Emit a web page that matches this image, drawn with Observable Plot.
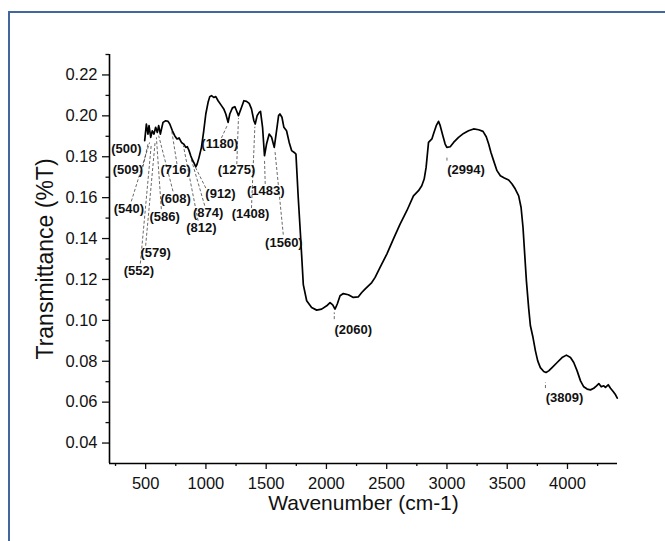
<!DOCTYPE html>
<html><head><meta charset="utf-8">
<script src="https://cdn.jsdelivr.net/npm/d3@7"></script>
<script src="https://cdn.jsdelivr.net/npm/@observablehq/plot@0.6"></script>
<style>
html,body{margin:0;padding:0;background:#fff;overflow:hidden;width:665px;height:541px;}
#frame{position:absolute;left:8px;top:11px;width:720px;height:620px;border:2px solid #43679d;box-sizing:border-box;}
#chart{position:absolute;left:0;top:0;}
</style></head><body>
<div id="frame"></div>
<div id="chart"></div>
<script>
const wavenumber = [492,506,519,528,542,555,569,583,597,608,622,644,666,686,700,722,741,760,777,797,816,833,846,860,874,888,899,916,927,943,963,982,999,1018,1032,1046,1065,1082,1101,1129,1148,1165,1184,1198,1220,1240,1254,1270,1295,1315,1337,1359,1378,1398,1409,1425,1442,1453,1470,1486,1503,1525,1545,1567,1586,1603,1614,1631,1647,1669,1691,1711,1733,1747,1766,1786,1808,1836,1877,1919,1960,2002,2030,2052,2071,2090,2113,2140,2182,2223,2265,2293,2320,2348,2376,2404,2445,2501,2556,2611,2667,2722,2764,2791,2811,2827,2847,2861,2875,2888,2911,2930,2944,2966,2985,2999,3027,3055,3096,3138,3179,3221,3263,3299,3326,3346,3365,3387,3415,3443,3476,3512,3540,3567,3595,3615,3631,3645,3659,3678,3692,3714,3734,3753,3775,3803,3822,3844,3872,3914,3955,3991,4025,4052,4080,4108,4135,4163,4191,4218,4241,4260,4280,4301,4315,4338,4357,4379,4399,4413];
const transmittance = [0.1879,0.1960,0.1911,0.1952,0.1895,0.1927,0.1911,0.1944,0.1919,0.1952,0.1911,0.1968,0.1976,0.1973,0.1960,0.1927,0.1903,0.1887,0.1892,0.1870,0.1862,0.1846,0.1849,0.1830,0.1805,0.1784,0.1772,0.1751,0.1764,0.1797,0.1846,0.1927,0.2009,0.2066,0.2094,0.2099,0.2090,0.2094,0.2074,0.2050,0.2034,0.2009,0.1968,0.2009,0.2039,0.2045,0.2025,0.2001,0.2041,0.2074,0.2071,0.2061,0.2034,0.1976,0.1960,0.2001,0.2017,0.2022,0.1944,0.1805,0.1862,0.1911,0.1895,0.1846,0.1927,0.2001,0.2009,0.1993,0.1944,0.1927,0.1870,0.1830,0.1821,0.1813,0.1601,0.1405,0.1175,0.1096,0.1063,0.1050,0.1055,0.1071,0.1087,0.1076,0.1055,0.1080,0.1120,0.1131,0.1125,0.1112,0.1115,0.1136,0.1153,0.1169,0.1185,0.1210,0.1259,0.1324,0.1398,0.1471,0.1536,0.1609,0.1634,0.1658,0.1691,0.1748,0.1870,0.1879,0.1887,0.1911,0.1952,0.1973,0.1952,0.1903,0.1862,0.1846,0.1849,0.1870,0.1895,0.1914,0.1927,0.1936,0.1932,0.1924,0.1898,0.1862,0.1821,0.1781,0.1732,0.1707,0.1696,0.1686,0.1667,0.1642,0.1609,0.1552,0.1454,0.1324,0.1194,0.1060,0.0975,0.0916,0.0851,0.0802,0.0769,0.0750,0.0745,0.0753,0.0769,0.0794,0.0818,0.0830,0.0818,0.0794,0.0753,0.0704,0.0675,0.0664,0.0660,0.0668,0.0680,0.0691,0.0675,0.0680,0.0672,0.0685,0.0668,0.0652,0.0636,0.0620];

const xMajorTicks = [500,1000,1500,2000,2500,3000,3500,4000];
const xMinorTicks = [250,750,1250,1750,2250,2750,3250,3750,4250];
const yMajorTicks = [0.04,0.06,0.08,0.10,0.12,0.14,0.16,0.18,0.20,0.22];
const yMinorTicks = [0.05,0.07,0.09,0.11,0.13,0.15,0.17,0.19,0.21,0.23];

const peakLabels = ["(500)","(509)","(540)","(552)","(579)","(586)","(608)","(716)","(812)","(874)","(912)","(1180)","(1275)","(1408)","(1483)","(1560)","(2060)","(2994)","(3809)"];
const labelX = [340,353,361,444,583,658,749,749,963,1018,1121,1115,1254,1370,1497,1647,2223,3158,3975];
const labelY = [0.1838,0.1735,0.1544,0.1243,0.1332,0.1507,0.1593,0.1735,0.1454,0.1528,0.1618,0.1862,0.1735,0.1520,0.1634,0.1381,0.0954,0.1735,0.0623];

// leader lines: label end (x1,y1) to spectrum end (x2,y2)
const leaderX1 = [478,381,456,500,630,727,760,935,990,999,1129,1256,1378,1492,1642,2065,3000,3817];
const leaderY1 = [0.1751,0.1582,0.1278,0.1365,0.1544,0.1631,0.1764,0.1487,0.1561,0.1647,0.1892,0.1764,0.1549,0.1667,0.1419,0.1006,0.1781,0.0669];
const leaderX2 = [519,533,547,578,589,608,716,813,874,916,1176,1270,1406,1486,1572,2065,3000,3817];
const leaderY2 = [0.1862,0.1870,0.1862,0.1870,0.1895,0.1903,0.1928,0.1854,0.1797,0.1745,0.1952,0.1989,0.1947,0.1789,0.1833,0.1039,0.1805,0.0696];

const spectrum = wavenumber.map((w, i) => ({w, t: transmittance[i]}));
const labels = peakLabels.map((s, i) => ({s, x: labelX[i], y: labelY[i]}));
const leaders = leaderX1.map((x1, i) => ({x1, y1: leaderY1[i], x2: leaderX2[i], y2: leaderY2[i]}));

const chart = Plot.plot({
  width: 665, height: 541,
  marginLeft: 109, marginRight: 48, marginTop: 54, marginBottom: 78,
  style: {fontFamily: "'Liberation Sans', Arial, sans-serif", background: "transparent", color: "#111"},
  x: {domain: [200, 4415]},
  y: {domain: [0.03, 0.23]},
  marks: [
    Plot.axisX({ticks: xMajorTicks, tickSize: 6, tickPadding: 8, fontSize: 16.5, strokeWidth: 1.3, label: null, tickFormat: d => String(d)}),
    Plot.axisX({ticks: xMinorTicks, tickSize: 3, strokeWidth: 1.3, tickFormat: () => "", label: null}),
    Plot.axisX({ticks: [], label: "Wavenumber (cm-1)", labelAnchor: "center", labelArrow: "none", labelOffset: 46, fontSize: 21}),
    Plot.axisY({ticks: yMajorTicks, tickSize: 7, tickPadding: 5, fontSize: 16.5, strokeWidth: 1.3, label: null, tickFormat: d3.format(".2f")}),
    Plot.axisY({ticks: yMinorTicks, tickSize: 3.5, strokeWidth: 1.3, tickFormat: () => "", label: null}),
    Plot.axisY({ticks: [], label: "Transmittance (%T)", labelAnchor: "center", labelArrow: "none", labelOffset: 73, fontSize: 23}),
    Plot.ruleX([200], {stroke: "#000", strokeWidth: 1.6}),
    Plot.ruleY([0.03], {stroke: "#000", strokeWidth: 1.6}),
    Plot.link(leaders, {x1: "x1", y1: "y1", x2: "x2", y2: "y2", stroke: "#444", strokeWidth: 0.8, strokeDasharray: "3,2"}),
    Plot.line(spectrum, {x: "w", y: "t", stroke: "#000", strokeWidth: 1.7}),
    Plot.text(labels, {x: "x", y: "y", text: "s", fontSize: 13, fontWeight: "bold", fill: "#111"})
  ]
});
document.getElementById("chart").appendChild(chart);
</script>
</body></html>
